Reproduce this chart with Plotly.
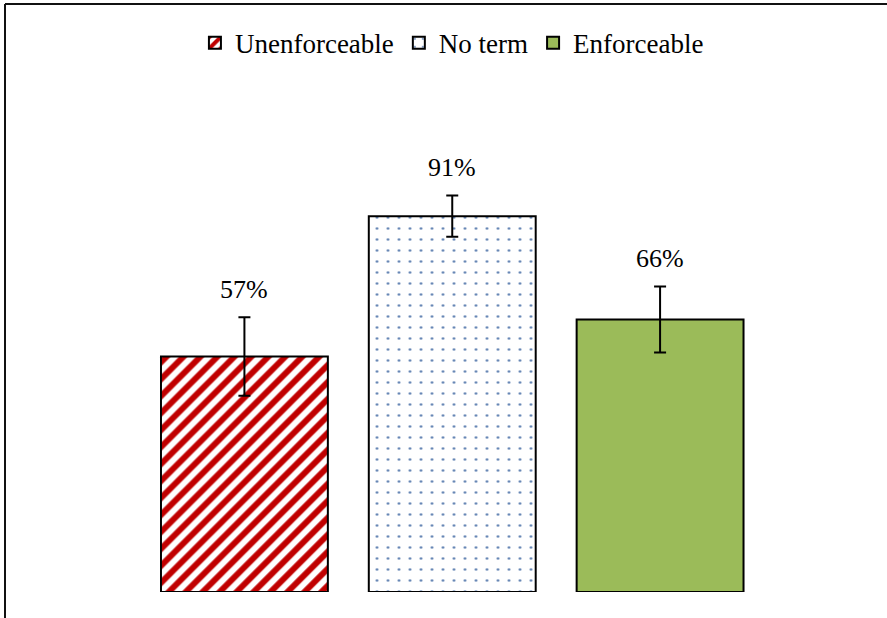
import plotly.graph_objects as go

categories = ["Unenforceable", "No term", "Enforceable"]
values = [57, 91, 66]
errors = [9.5, 5, 8]
labels = ["57%", "91%", "66%"]

colors = ["#FFFFFF", "#FFFFFF", "#9BBB59"]
patterns = [
    dict(shape="/", fgcolor="#C00000", bgcolor="#FFFFFF", size=12, solidity=0.5, fillmode="replace"),
    dict(shape=".", fgcolor="#4F74AA", bgcolor="#FFFFFF", size=11, solidity=0.04, fillmode="replace"),
    dict(shape=""),
]

FONT = "Liberation Serif"

fig = go.Figure()
for i, cat in enumerate(categories):
    fig.add_trace(go.Bar(
        x=[i], y=[values[i]], name=cat,
        marker=dict(color=colors[i], pattern=patterns[i],
                    line=dict(color="#000000", width=2)),
        error_y=dict(type="data", array=[errors[i]], color="#000000",
                     thickness=2, width=6),
        width=0.803,
    ))
    fig.add_annotation(x=i, y=values[i] + errors[i], text=labels[i],
                       showarrow=False, yshift=28,
                       font=dict(family=FONT, size=26, color="#000000"))

fig.update_layout(
    width=887, height=618,
    margin=dict(l=0, r=0, t=0, b=0),
    paper_bgcolor="white", plot_bgcolor="white",
    barmode="overlay",
    font=dict(family=FONT, size=26, color="#000000"),
    showlegend=True,
    legend=dict(orientation="h", x=0.5095, xanchor="center", y=0.93, yanchor="middle",
                font=dict(family=FONT, size=27), bgcolor="rgba(0,0,0,0)"),
    xaxis=dict(domain=[140.5/887, 764/887], range=[-0.5, 2.5], visible=False),
    yaxis=dict(domain=[26/618, 439/618], range=[0, 100], visible=False),
    shapes=[
        dict(type="line", xref="paper", yref="paper", x0=5/887, x1=1, y0=1-4/618, y1=1-4/618,
             line=dict(color="#111111", width=2)),
        dict(type="line", xref="paper", yref="paper", x0=5/887, x1=5/887, y0=0, y1=1-4/618,
             line=dict(color="#111111", width=2)),
    ],
)

fig.write_html(
    "out.html",
    config={"displayModeBar": False},
    post_script="document.body.style.margin='0';document.body.style.padding='0';document.body.style.overflow='hidden';",
)
